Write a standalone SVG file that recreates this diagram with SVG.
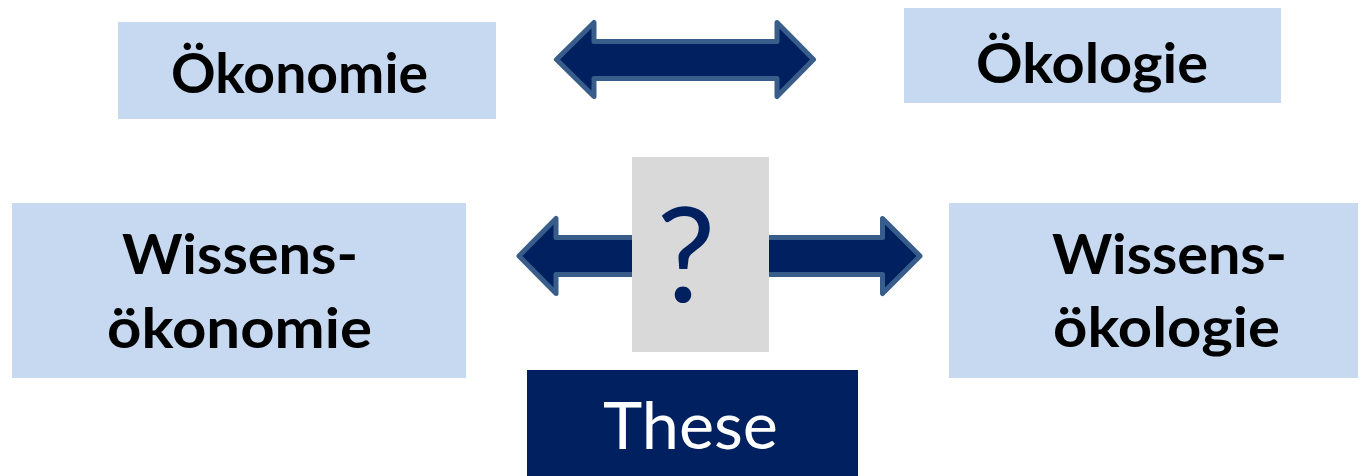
<svg xmlns="http://www.w3.org/2000/svg" width="1370" height="476" viewBox="0 0 1370 476">
<style>
.box{fill:#C6D9F1}
.lbl{font-family:Lato,"Open Sans","Liberation Sans",sans-serif;font-weight:bold;font-size:56px;fill:#000;text-anchor:middle}
.arrow{fill:#002060;stroke:#385D8A;stroke-width:5;stroke-linejoin:round}
</style>
<rect width="1370" height="476" fill="#FFFFFF"/>
<g id="connectors">
<path class="arrow" d="M556.5,59.5 L594,22.5 L594,41.5 L777,41.5 L777,22.5 L813.5,59.5 L777,96.5 L777,78.5 L594,78.5 L594,96.5 Z"/>
<path class="arrow" d="M519,256 L556,218.5 L556,237.5 L882.5,237.5 L882.5,218.5 L920,256 L882.5,293.5 L882.5,274.5 L556,274.5 L556,293.5 Z"/>
</g>
<g id="oekonomie">
<rect class="box" x="118" y="22" width="378" height="97"/>
<text class="lbl" x="299.5" y="93" textLength="257" lengthAdjust="spacingAndGlyphs">Ökonomie</text>
</g>
<g id="oekologie">
<rect class="box" x="904" y="8" width="377" height="95"/>
<text class="lbl" x="1092" y="83" textLength="232" lengthAdjust="spacingAndGlyphs">Ökologie</text>
</g>
<g id="wissensoekonomie">
<rect class="box" x="12" y="203" width="454" height="175"/>
<text class="lbl" x="240" y="274" textLength="236" lengthAdjust="spacingAndGlyphs">Wissens-</text>
<text class="lbl" x="239.5" y="348" textLength="265" lengthAdjust="spacingAndGlyphs">ökonomie</text>
</g>
<g id="wissensoekologie">
<rect class="box" x="949" y="203" width="409" height="175"/>
<text class="lbl" x="1169.5" y="274" textLength="235" lengthAdjust="spacingAndGlyphs">Wissens-</text>
<text class="lbl" x="1166.5" y="347" textLength="227" lengthAdjust="spacingAndGlyphs">ökologie</text>
</g>
<g id="frage">
<rect x="632" y="157" width="137" height="195" fill="#D9D9D9"/>
<text x="686" y="302" font-family="Lato,'Open Sans','Liberation Sans',sans-serif" font-size="132" fill="#002060" text-anchor="middle">?</text>
</g>
<g id="these">
<rect x="527" y="370" width="331" height="106" fill="#002060"/>
<text x="690.5" y="449" font-family="Lato,'Open Sans','Liberation Sans',sans-serif" font-size="65" fill="#FFFFFF" text-anchor="middle" textLength="175" lengthAdjust="spacingAndGlyphs">These</text>
</g>
</svg>
